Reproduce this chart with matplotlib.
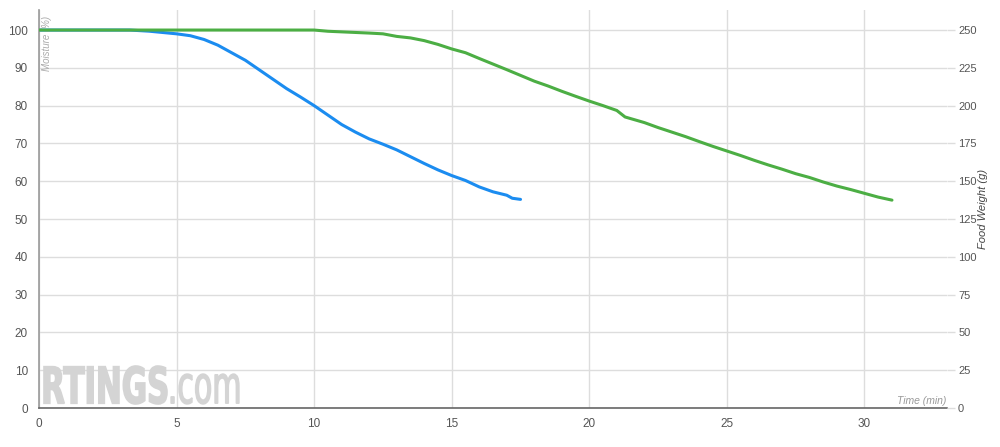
import matplotlib.pyplot as plt
from matplotlib.textpath import TextPath
from matplotlib.patches import PathPatch
from matplotlib.font_manager import FontProperties
from matplotlib.transforms import Affine2D, IdentityTransform

# moisture (%) over time (min)
moist_t = [0, 3.3, 4, 5, 5.5, 6, 6.5, 7, 7.5, 8, 8.5, 9, 9.5, 10, 10.5, 11, 11.5, 12,
           12.5, 13, 13.5, 14, 14.5, 15, 15.5, 16, 16.5, 17, 17.2, 17.5]
moist_v = [100, 100, 99.7, 99, 98.5, 97.5, 96, 94, 92, 89.5, 87, 84.5, 82.3, 80, 77.5,
           75, 73, 71.2, 69.8, 68.3, 66.5, 64.7, 63, 61.5, 60.2, 58.5, 57.2, 56.3, 55.5, 55.2]

# food weight (g) over time (min)
weight_t = [0, 10, 10.5, 11, 12, 12.5, 13, 13.5, 14, 14.5, 15, 15.5, 16, 16.5, 17, 17.5,
            18, 18.5, 19, 19.5, 20, 20.5, 21, 21.3, 22, 22.5, 23, 23.5, 24, 24.5, 25,
            25.5, 26, 26.5, 27, 27.5, 28, 28.5, 29, 29.5, 30, 30.5, 31]
weight_v = [250, 250, 249.2, 248.8, 248, 247.5, 245.8, 244.8, 243, 240.5, 237.5, 235,
            231.2, 227.5, 223.8, 220, 216.2, 213, 209.5, 206.2, 203, 200, 196.8, 192.5,
            188.8, 185.5, 182.5, 179.5, 176.2, 173, 170, 167, 163.8, 160.8, 158, 155,
            152.5, 149.5, 146.8, 144.5, 142, 139.5, 137.5]

x_ticks = [0, 5, 10, 15, 20, 25, 30]
left_ticks = list(range(0, 101, 10))
right_ticks = list(range(0, 251, 25))

grid_c = '#dddddd'
tick_c = '#555555'
plt.rcParams['font.family'] = ['Liberation Sans', 'DejaVu Sans']

fig = plt.figure(figsize=(10, 4.47), dpi=100)
ax = fig.add_axes([0.039, 0.0872, 0.908, 0.8904])
ax2 = ax.twinx()

ax.set_xlim(0, 33)
ax.set_ylim(0, 105.3)
ax2.set_ylim(0, 105.3 * 2.5)

ax.set_xticks(x_ticks)
ax.set_yticks(left_ticks)
ax2.set_yticks(right_ticks)

ax.grid(True, color=grid_c, linewidth=1)
ax.set_axisbelow(True)

for s in ['top', 'right']:
    ax.spines[s].set_visible(False)
for s in ['top', 'right', 'left', 'bottom']:
    ax2.spines[s].set_visible(False)
ax.spines['left'].set_color('#999999')
ax.spines['bottom'].set_color('#666666')
ax.spines['left'].set_linewidth(1.2)
ax.spines['bottom'].set_linewidth(1.2)

ax.tick_params(axis='x', length=0, pad=7, labelsize=8.5, labelcolor=tick_c)
ax.tick_params(axis='y', length=0, pad=8, labelsize=8.5, labelcolor=tick_c)
ax2.tick_params(axis='y', length=6, width=1, color=grid_c, pad=2, labelsize=8,
                labelcolor=tick_c)

ax.plot(moist_t, moist_v, color='#1b8cf0', linewidth=2.2, solid_capstyle='round')
ax2.plot(weight_t, weight_v, color='#4cae44', linewidth=2.2, solid_capstyle='round')

ax.text(0.003, 0.985, 'Moisture (%)', transform=ax.transAxes, rotation=90,
        ha='left', va='top', fontsize=7, style='italic', color='#aaaaaa')
ax.text(0.999, 0.006, 'Time (min)', transform=ax.transAxes, ha='right', va='bottom',
        fontsize=7.5, style='italic', color='#999999')
fig.text(0.9835, 0.532, 'Food Weight (g)', rotation=90, ha='center', va='center',
         fontsize=8, style='italic', color='#444444')


# watermark: condensed text fitted into a pixel box (x0, y0 from bottom, x1, y1)
def fit_text(s, box, weight, color, lw):
    tp = TextPath((0, 0), s, size=40, prop=FontProperties(family='DejaVu Sans', weight=weight))
    ext = tp.get_extents()
    x0, y0, x1, y1 = box
    tr = (Affine2D().translate(-ext.x0, -ext.y0)
          .scale((x1 - x0) / ext.width, (y1 - y0) / ext.height)
          .translate(x0, y0))
    fig.patches.append(PathPatch(tr.transform_path(tp), transform=IdentityTransform(),
                                 facecolor=color, edgecolor=color, linewidth=lw, zorder=1))


fit_text('RTINGS', (44, 447 - 404, 167, 447 - 366), 'bold', '#d4d4d4', 1.2)
fit_text('.com', (171, 447 - 404, 239, 447 - 374), 'normal', '#d4d4d4', 1.0)

fig.savefig('out.png', dpi=100)
